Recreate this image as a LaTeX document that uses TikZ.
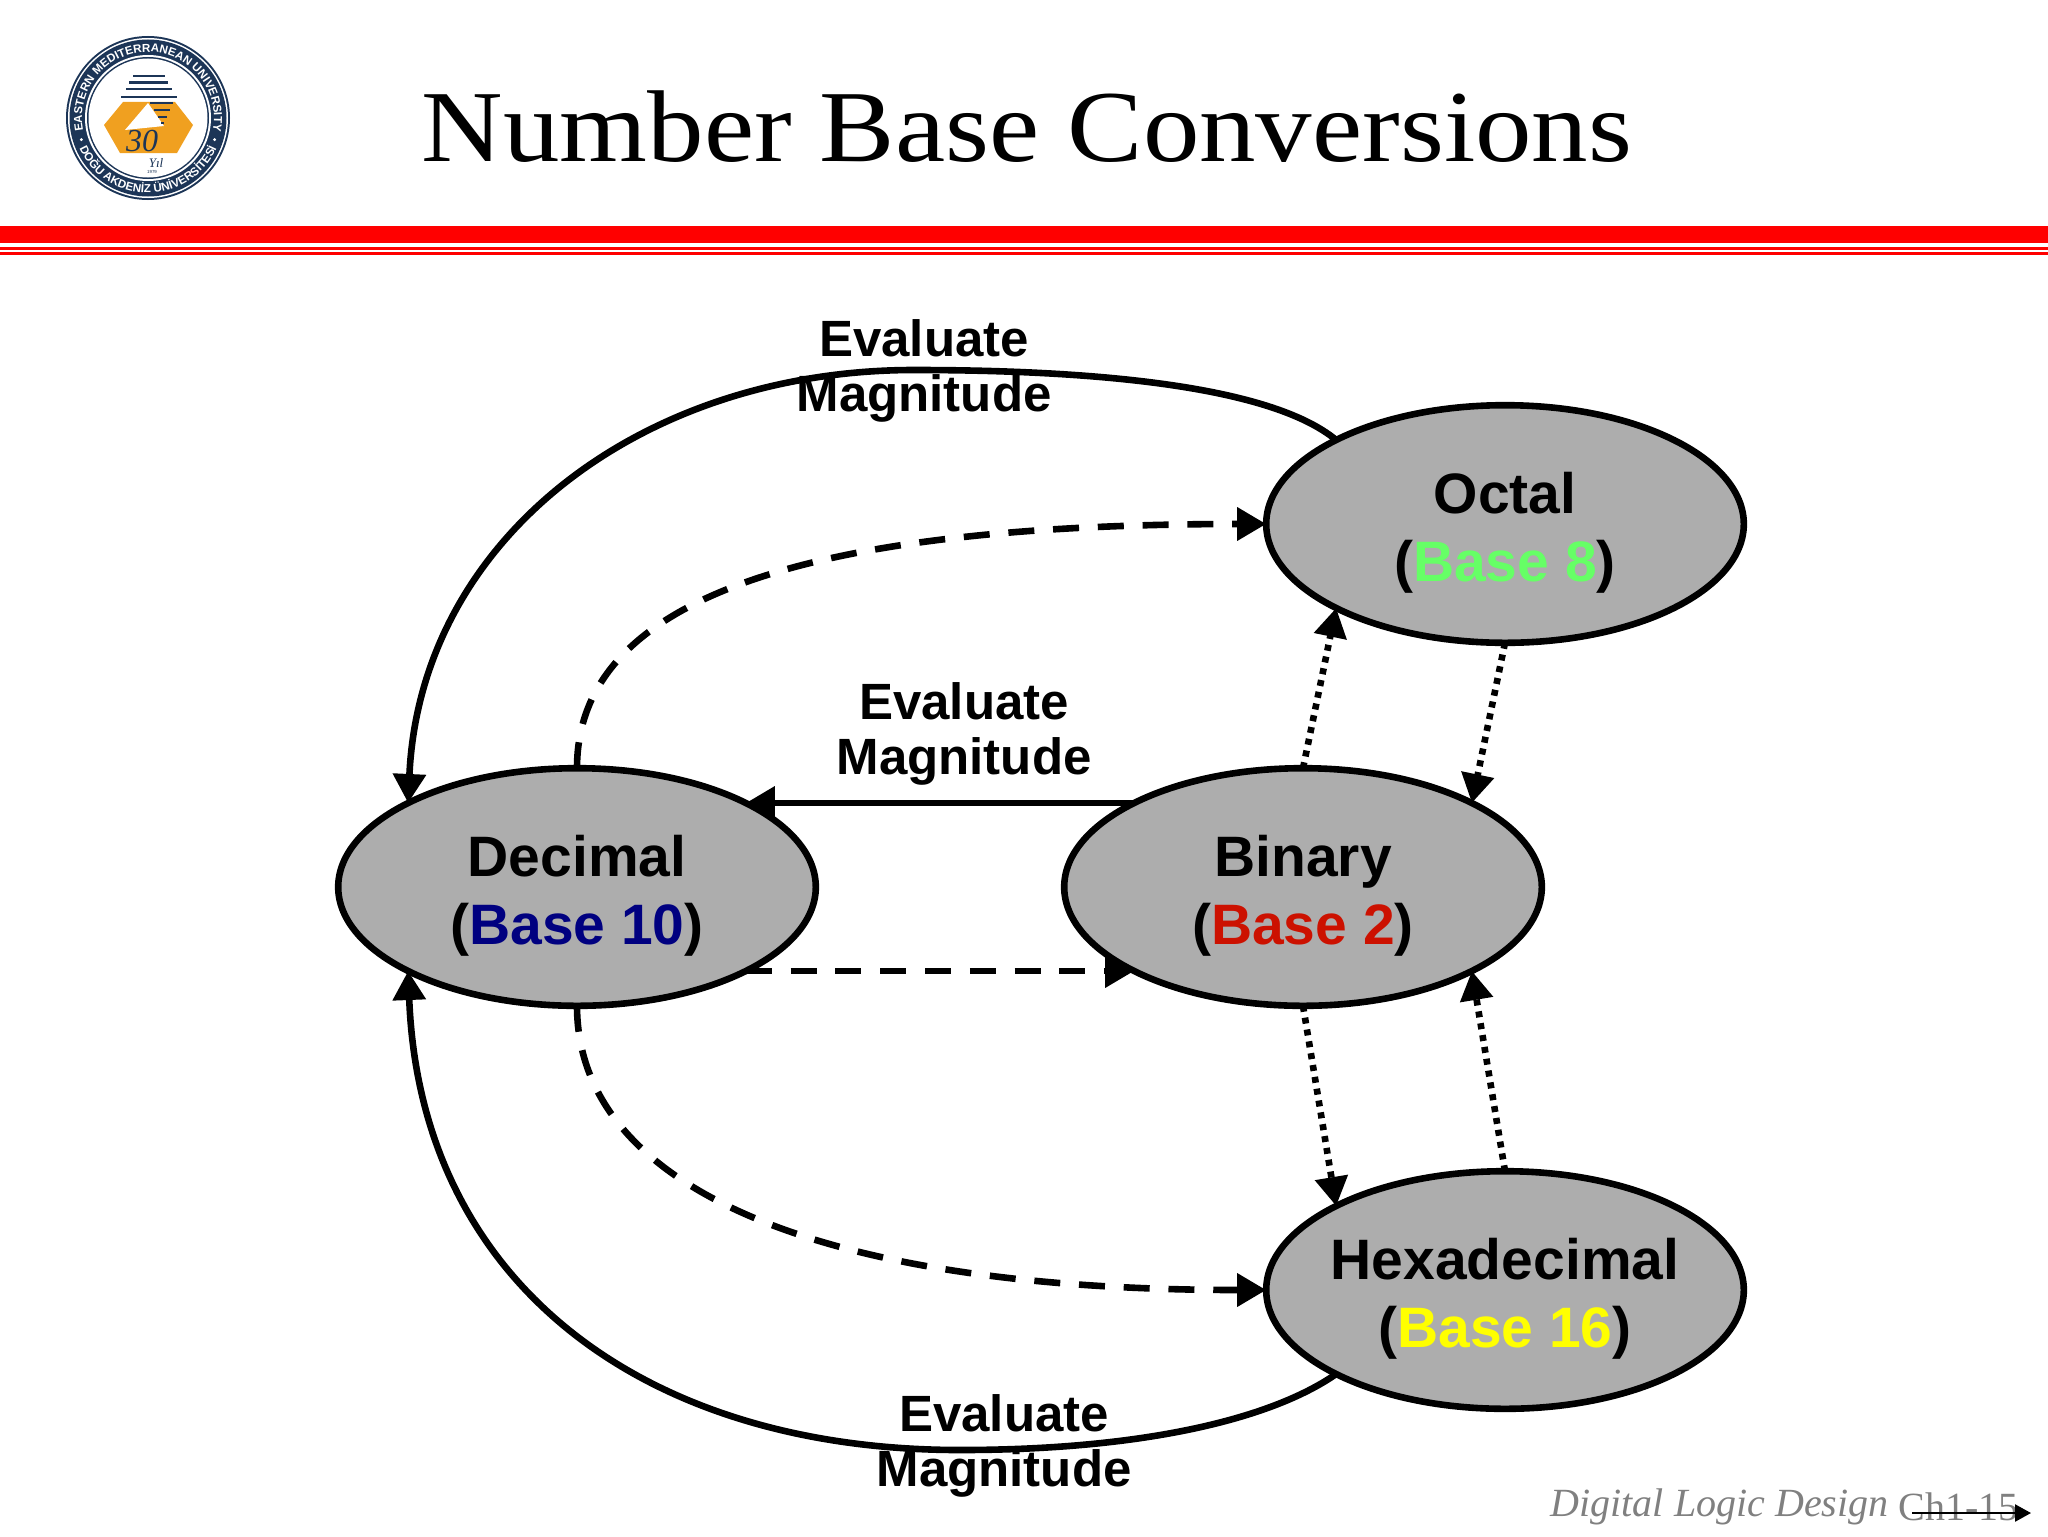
\documentclass[tikz,border=0pt]{standalone}
\usepackage{fontspec}
\setmainfont{Liberation Serif}
\newfontfamily\arialf{Liberation Sans}
\newfontfamily\titlef[FakeStretch=1.107]{Liberation Serif}
\usetikzlibrary{arrows.meta,shapes.geometric,decorations.text}
\definecolor{ellgray}{HTML}{ADADAD}
\definecolor{bgreen}{HTML}{66FF66}
\definecolor{bnavy}{HTML}{000080}
\definecolor{bred}{HTML}{CC1100}
\definecolor{byellow}{HTML}{FFFF00}
\definecolor{emunavy}{HTML}{1C3557}
\definecolor{emuorange}{HTML}{F0A020}
\definecolor{footgray}{HTML}{808080}
\newcommand{\lowerstrut}{\rule{0pt}{29pt}}
\tikzset{
  base/.style={ellipse,draw=black,line width=3.3pt,fill=ellgray,minimum width=238.8pt,minimum height=118.8pt,inner xsep=-20pt,inner ysep=0pt,outer sep=0pt,align=center,font=\arialf\bfseries\fontsize{28.5}{34}\selectfont},
  conn/.style={line width=3.3pt,draw=black,-{Triangle[length=14.5pt,width=16pt]}},
  dashconn/.style={conn,dash pattern=on 13pt off 9.4pt},
  dotconn/.style={conn,dash pattern=on 3pt off 3pt},
  lab/.style={align=center,inner sep=0pt,font=\arialf\bfseries\fontsize{25.5}{27.5}\selectfont},
}
\begin{document}
\begin{tikzpicture}[x=0.5pt,y=-0.5pt]
\useasboundingbox (0,0) rectangle (2048,1536);
\fill[white] (0,0) rectangle (2048,1536);
% logo
\coordinate (lg) at (148,118);
\fill[emunavy] (lg) circle[radius=82];
\fill[white] (lg) circle[radius=80];
\fill[emunavy] (lg) circle[radius=78.5];
\fill[white] (lg) circle[radius=63];
\fill[emunavy] (lg) circle[radius=61];
\fill[white] (lg) circle[radius=59.5];
\fill[emuorange] (104,125)--(123,102)--(175,102)--(193,125)--(177,153)--(120,153)--cycle;
\fill[white] (148,103)--(125,130)--(164,126)--cycle;
\foreach \yy/\xa/\xb in {76/133/165,82.5/129/168,89/126/172,97/121/177,103/150/173,110/154/170,117/158/167,123/161/164}{\draw[emunavy,line width=1.4pt] (\xa,\yy)--(\xb,\yy);}
\begin{scope}[shift={(148,118)},x=0.5pt,y=0.5pt]
\path[postaction={decorate,decoration={text along path,text align=center,text={|\fontsize{5.8}{6}\selectfont\arialf\bfseries\color{white}|EASTERN MEDITERRANEAN UNIVERSITY}}}] (195:66) arc[start angle=195,end angle=-15,radius=66];
\path[postaction={decorate,decoration={text along path,text align=center,text={|\fontsize{5.8}{6}\selectfont\arialf\bfseries\color{white}|DOĞU AKDENİZ ÜNİVERSİTESİ}}}] (205:75) arc[start angle=205,end angle=335,radius=75];
\fill[white] (198:70) circle[radius=1.6];
\fill[white] (-18:70) circle[radius=1.6];
\end{scope}
\node (lgt) at (142,141) [inner sep=0pt,text=emunavy,font=\fontsize{16}{16}\selectfont\itshape] {30};
\node (lgy) at (156,163) [inner sep=0pt,text=emunavy,font=\fontsize{6.5}{7}\selectfont\itshape] {Yıl};
\node (lgn) at (152,172) [inner sep=0pt,text=emunavy,font=\arialf\fontsize{2.2}{3}\selectfont] {1979};
% title
\node (title) at (1027,127) [inner sep=0pt,font=\titlef\fontsize{51}{54}\selectfont] {Number Base Conversions};
% rule
\fill[red] (0,226) rectangle (2048,243);
\fill[red] (0,247) rectangle (2048,249.5);
\fill[red] (0,251.5) rectangle (2048,254.5);
% nodes
\node[base] (oct) at (1505,524) {\lowerstrut Octal\\(\textcolor{bgreen}{Base 8})};
\node[base] (dec) at (577,887) {\lowerstrut Decimal\\(\textcolor{bnavy}{Base 10})};
\node[base] (bin) at (1303,887) {\lowerstrut Binary\\(\textcolor{bred}{Base 2})};
\node[base] (hex) at (1505,1290) {\lowerstrut Hexadecimal\\(\textcolor{byellow}{Base 16})};
% connectors
\draw[conn] (bin.north west) -- (dec.north east);
\draw[dashconn] (dec.south east) -- (bin.south west);
\draw[conn] (oct.north west) .. controls (1270,385) and (1090,370) .. (914,370) .. controls (640,370) and (420,540) .. (dec.north west);
\draw[conn] (hex.south west) .. controls (1270,1420) and (1140,1450) .. (960,1450) .. controls (640,1450) and (420,1280) .. (dec.south west);
\draw[dashconn] (dec.north) .. controls (577,600) and (800,524) .. (oct.west);
\draw[dashconn] (dec.south) .. controls (577,1180) and (800,1290) .. (hex.west);
\draw[dotconn] (bin.north) -- (oct.south west);
\draw[dotconn] (oct.south) -- (bin.north east);
\draw[dotconn] (bin.south) -- (hex.north west);
\draw[dotconn] (hex.north) -- (bin.south east);
% labels
\node[lab] (l1) at (924,371) {Evaluate\\Magnitude};
\node[lab] (l2) at (964,734) {Evaluate\\Magnitude};
\node[lab] (l3) at (1004,1446) {Evaluate\\Magnitude};
% footer
\node (foot1) at (1719.5,1507) [inner sep=0pt,text=footgray,font=\fontsize{20}{24}\selectfont\itshape] {Digital Logic Design};
\node (foot2) at (1958.5,1507) [inner sep=0pt,text=footgray,font=\fontsize{20}{24}\selectfont] {Ch1-15};
\coordinate (arra) at (1912,1513);
\coordinate (arrb) at (2031,1513);
\draw[line width=1.2pt,-{Triangle[length=8pt,width=8.5pt]}] (arra)--(arrb);
\end{tikzpicture}
\end{document}
